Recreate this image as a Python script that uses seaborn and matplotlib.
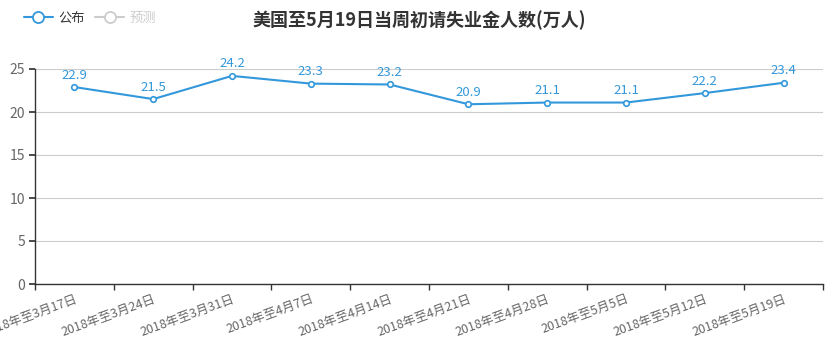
import matplotlib
matplotlib.use("Agg")
import matplotlib.pyplot as plt
import seaborn as sns
import pandas as pd
from matplotlib.lines import Line2D

categories = ["2018年至3月17日", "2018年至3月24日", "2018年至3月31日", "2018年至4月7日",
              "2018年至4月14日", "2018年至4月21日", "2018年至4月28日", "2018年至5月5日",
              "2018年至5月12日", "2018年至5月19日"]
published = [22.9, 21.5, 24.2, 23.3, 23.2, 20.9, 21.1, 21.1, 22.2, 23.4]
title = "美国至5月19日当周初请失业金人数(万人)"
legend_labels = ["公布", "预测"]

sns.set_theme(style="white")
plt.rcParams['font.family'] = ['Noto Sans CJK SC', 'DejaVu Sans']

line_color = "#3398DB"
df = pd.DataFrame({"cat": categories, "val": published})

fig = plt.figure(figsize=(8.39, 3.58), dpi=100)
ax = fig.add_axes([35/839, 1-284/358, (823-35)/839, (284-69)/358])

sns.lineplot(data=df, x="cat", y="val", ax=ax, color=line_color, linewidth=1.5,
             marker="o", markersize=4, markerfacecolor="white", markeredgecolor=line_color,
             markeredgewidth=1.2, sort=False)

for i, v in enumerate(published):
    ax.annotate(f"{v:g}", (i, v), xytext=(0, 4), textcoords="offset points",
                ha="center", va="bottom", color=line_color, fontsize=9.5)

ax.set_xlim(-0.5, len(categories) - 0.5)
ax.set_ylim(0, 25)
ax.set_yticks([0, 5, 10, 15, 20, 25])
ax.yaxis.grid(True, color="#cccccc", linewidth=0.8)
ax.xaxis.grid(False)
ax.set_xlabel("")
ax.set_ylabel("")

ax.set_xticks(range(len(categories)))
ax.set_xticklabels(categories, rotation=20, ha="right", rotation_mode="anchor",
                   fontsize=9, color="#666666")
ax.set_xticks([i - 0.5 for i in range(len(categories) + 1)], minor=True)
ax.tick_params(axis="x", which="major", length=0, pad=6)
ax.tick_params(axis="x", which="minor", length=4, color="#333333", direction="out", bottom=True)
ax.tick_params(axis="y", length=4, color="#333333", direction="out", left=True,
               labelsize=10, labelcolor="#666666", pad=3)

for s in ["top", "right"]:
    ax.spines[s].set_visible(False)
for s in ["left", "bottom"]:
    ax.spines[s].set_color("#333333")
    ax.spines[s].set_linewidth(1)

fig.text(0.5, 1-20/358, title, ha="center", va="center", fontsize=13,
         fontweight="bold", color="#333333")

handles = [
    Line2D([0], [0], color=line_color, marker="o", markersize=8, markerfacecolor="white",
           markeredgecolor=line_color, markeredgewidth=1.3, linewidth=1.5),
    Line2D([0], [0], color="#cccccc", marker="o", markersize=8, markerfacecolor="white",
           markeredgecolor="#cccccc", markeredgewidth=1.3, linewidth=1.5),
]
leg = fig.legend(handles, legend_labels, loc="center left", bbox_to_anchor=(12/839, 1-18/358),
                 ncol=2, frameon=False, fontsize=9.5, handlelength=2.2, handletextpad=0.4,
                 columnspacing=0.8)
leg.get_texts()[0].set_color("#333333")
leg.get_texts()[1].set_color("#cccccc")

fig.savefig("out.png", dpi=100)
